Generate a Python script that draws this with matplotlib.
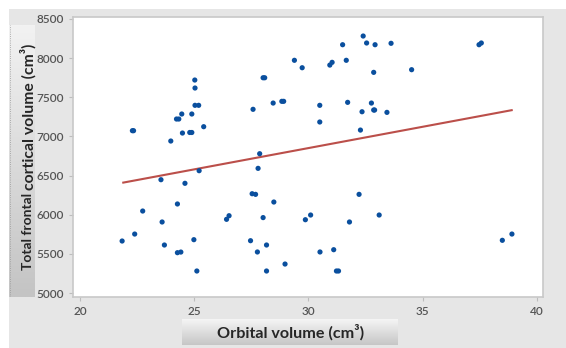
import numpy as np
import matplotlib
matplotlib.use('Agg')
import matplotlib.pyplot as plt

# orbital volume (cm3) vs total frontal cortical volume (cm3)
orbital = [22.3, 22.35, 21.85, 22.4, 22.75, 23.55, 23.6, 23.7, 23.98,
           24.23, 24.33, 24.46, 24.27, 24.27, 24.42, 24.6, 24.49, 24.81, 24.9,
           24.9, 25.03, 25.04, 25.04, 25.2, 24.99, 25.12, 25.22, 25.42,
           26.42, 26.53, 27.47, 27.58, 27.54, 27.69, 27.77, 27.8, 27.87,
           28.02, 28.02, 28.09, 28.17, 28.17, 28.46, 28.49, 28.84, 28.92,
           28.98, 29.39, 29.73, 29.87, 30.1, 30.5, 30.5, 30.51, 30.94, 31.04,
           31.11, 31.23, 31.32, 31.5, 31.66, 31.72, 31.8, 32.22, 32.28, 32.35,
           32.4, 32.55, 32.76, 32.86, 32.86, 32.9, 32.92, 33.1, 33.44, 33.62,
           34.52, 37.47, 37.57, 38.49, 38.91]
frontal = [7073, 7073, 5664, 5753, 6047, 6447, 5907, 5613, 6941,
           7222, 7222, 7286, 6137, 5515, 5523, 6401, 7043, 7050, 7050,
           7286, 7720, 7618, 7397, 7397, 5681, 5281, 6562, 7124,
           5941, 5987, 5668, 7346, 6268, 6260, 5524, 6592, 6779,
           5963, 7749, 7749, 5613, 5281, 7426, 6162, 7448, 7448,
           5370, 7972, 7877, 5936, 5996, 7397, 7184, 5524, 7911, 7946,
           5553, 5281, 5281, 8171, 7972, 7435, 5907, 6260, 7081, 7315,
           8282, 8193, 7426, 7818, 7337, 7337, 8171, 5996, 7307, 8189,
           7852, 8171, 8193, 5673, 5753]

# fitted trend line end points
fit_x = [21.9, 38.9]
fit_y = [6410, 7335]

xticks = [20, 25, 30, 35, 40]
yticks = [5000, 5500, 6000, 6500, 7000, 7500, 8000, 8500]

plt.rcParams['font.family'] = ['Lato', 'DejaVu Sans']

W, H = 566, 348
fig = plt.figure(figsize=(W / 100, H / 100), dpi=100)
fig.patch.set_facecolor('white')


def px_axes(x0, y0, x1, y1, **kw):
    return fig.add_axes([x0 / W, 1 - y1 / H, (x1 - x0) / W, (y1 - y0) / H], **kw)


# grey backdrop
bg = px_axes(9, 9, W, H)
bg.set_facecolor('#e6e6e6')
bg.set_xticks([])
bg.set_yticks([])
for s in bg.spines.values():
    s.set_visible(False)

# gradient label boxes
grad = np.linspace(0, 1, 100).reshape(-1, 1)
ybox = px_axes(9, 25, 35, 297)
ybox.imshow(grad, aspect='auto', cmap=matplotlib.colors.LinearSegmentedColormap.from_list(
    'g', ['#f2f2f2', '#c4c4c4']), extent=[0, 1, 1, 0])
ybox.set_xticks([])
ybox.set_yticks([])
for s in ybox.spines.values():
    s.set_visible(False)
ybox.axvline(0.02, color='#999999', lw=0.6, ls=':')

xbox = px_axes(182, 319, 398, 345)
xbox.imshow(grad, aspect='auto', cmap=matplotlib.colors.LinearSegmentedColormap.from_list(
    'g2', ['#f7f7f7', '#c6c6c6']), extent=[0, 1, 1, 0])
xbox.set_xticks([])
xbox.set_yticks([])
for s in xbox.spines.values():
    s.set_visible(False)

# main plot
ax = px_axes(73, 17, 543, 297)
ax.set_facecolor('white')
ax.scatter(orbital, frontal, s=14, color='#0a4f9e', edgecolors='none', zorder=3)
ax.plot(fit_x, fit_y, color='#bb4f4a', lw=1.5, zorder=2)
ax.set_xlim(19.7, 40.27)
ax.set_ylim(4949, 8525)
ax.set_xticks(xticks)
ax.set_yticks(yticks)
ax.tick_params(colors='#bdbdbd', labelcolor='#555555', labelsize=8.5, length=3, width=0.8)
for lab in ax.get_xticklabels() + ax.get_yticklabels():
    lab.set_fontweight('semibold')
for s in ax.spines.values():
    s.set_color('#c8c8c8')
    s.set_linewidth(1.2)

fig.text(28 / W, 1 - 270 / H, 'Total frontal ', rotation=90, ha='center', va='bottom',
         fontsize=10, fontweight='bold', color='#262626')
fig.text(28 / W, 1 - 190 / H, 'cortical volume (cm³)', rotation=90, ha='center', va='bottom',
         fontsize=11.3, fontweight='bold', color='#262626')
fig.text(291 / W, 1 - 332 / H, 'Orbital volume (cm³)', ha='center', va='center',
         fontsize=11.6, fontweight='bold', color='#262626')

fig.savefig('out.png', dpi=100)
